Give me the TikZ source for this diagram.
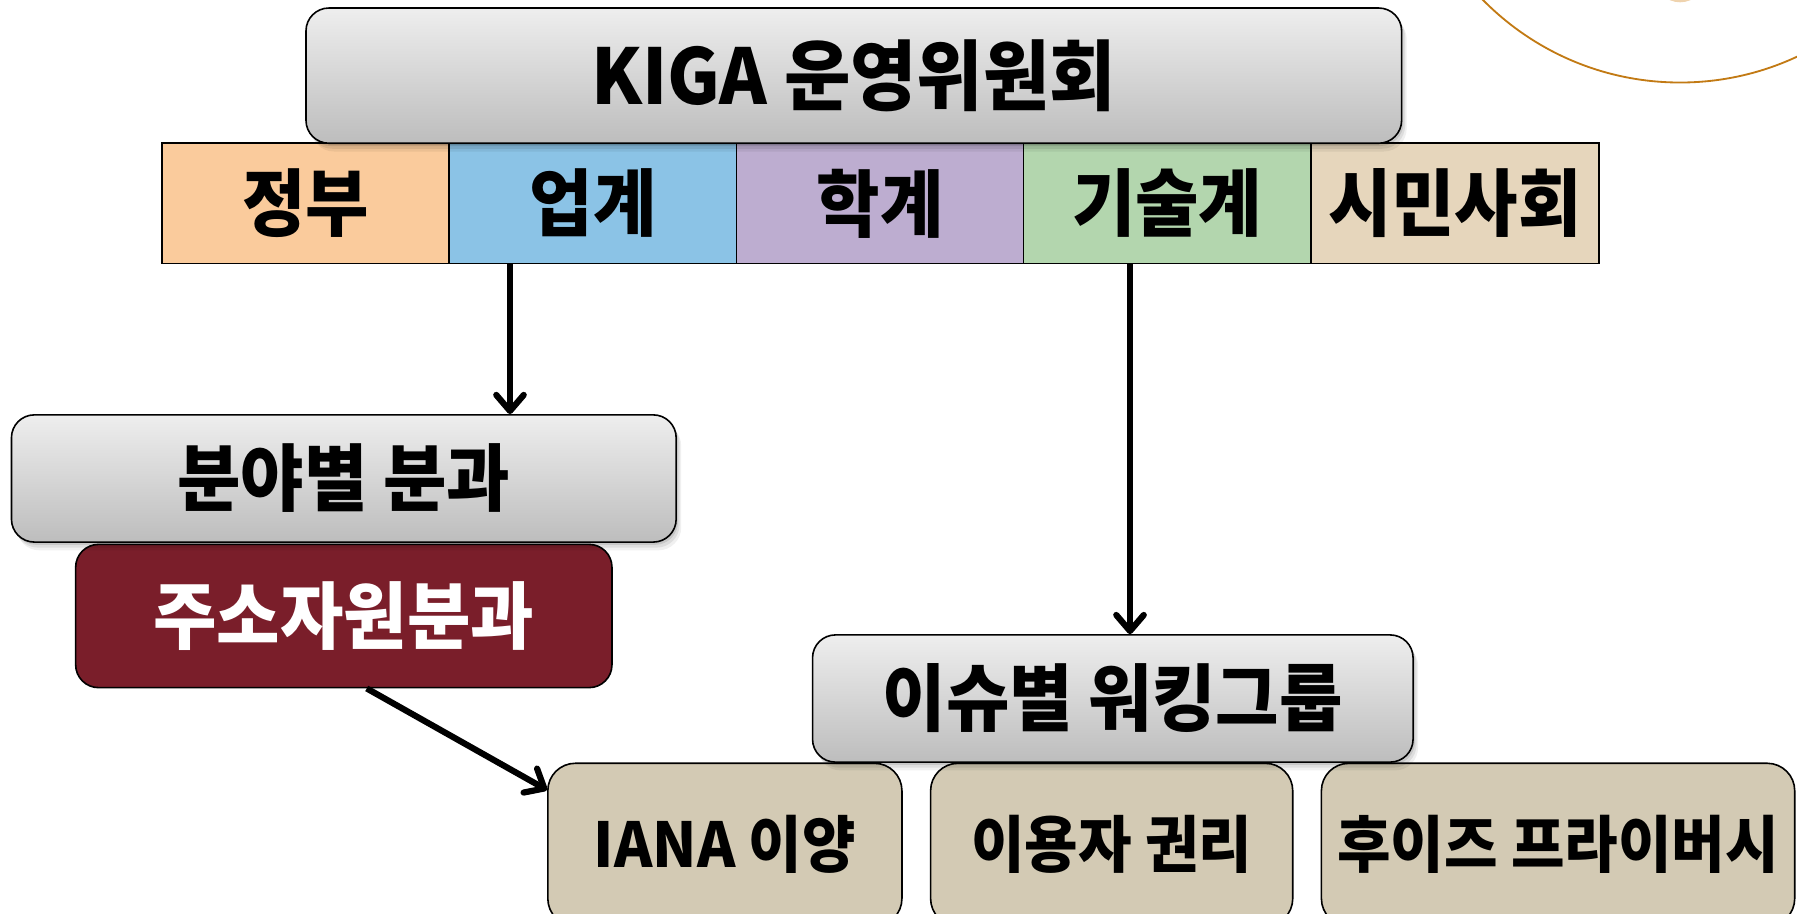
\documentclass[tikz,border=0pt]{standalone}
\usepackage{fontspec}
\setmainfont{Noto Sans CJK KR}
\newfontfamily\krb{Noto Sans CJK KR Black}[FakeStretch=0.94]
\usetikzlibrary{arrows.meta,shadows,calc}
\definecolor{gtop}{HTML}{EEEEEE}
\definecolor{gbot}{HTML}{BDBDBD}
\definecolor{cgov}{HTML}{FACB9C}
\definecolor{cind}{HTML}{8BC3E6}
\definecolor{cacad}{HTML}{BDADD0}
\definecolor{ctech}{HTML}{B3D6AE}
\definecolor{civil}{HTML}{E6D6BC}
\definecolor{darkred}{HTML}{7A1E2A}
\definecolor{tanbg}{HTML}{D3CAB4}
\definecolor{ringc}{HTML}{C27A14}
\definecolor{blobc}{HTML}{EFD3AE}
\tikzset{
  softshadow/.style={
    general shadow={fill=black,opacity=0.10,shadow xshift=0.8pt,shadow yshift=-1.2pt},
    general shadow={fill=black,opacity=0.08,shadow xshift=1.5pt,shadow yshift=-2.4pt},
    general shadow={fill=black,opacity=0.06,shadow xshift=2.2pt,shadow yshift=-3.6pt}},
  basebox/.style={draw=black,line width=0.7pt,inner sep=0pt,
    font=\krb\fontsize{32}{34}\selectfont},
  graybox/.style={basebox,rounded corners=10pt,top color=gtop,bottom color=gbot,softshadow},
  cellbox/.style={basebox,minimum width=125.5pt,minimum height=52.5pt},
  redbox/.style={basebox,rounded corners=10pt,fill=darkred,text=white},
  tanbox/.style={basebox,rounded corners=12pt,fill=tanbg,minimum height=71pt,
    font=\krb\fontsize{27}{29}\selectfont},
  arr/.style={line width=2.7pt,-{Straight Barb[length=7pt,width=12pt,round]}}
}
\begin{document}
\begin{tikzpicture}[x=0.5pt,y=-0.5pt]
\useasboundingbox (0,0) rectangle (1568,797.5);
\clip (0,0) rectangle (1568,797.5);
% ring at top right
\fill[blobc] (1466,-20) circle[radius=22];
\draw[ringc,line width=0.8pt] (1466,-169.4) circle[radius=241.4];
% category row
\node[cellbox,fill=cgov]  (cat1) at (267,177.5)   {정부};
\node[cellbox,fill=cind]  (cat2) at (517.5,177.5) {업계};
\node[cellbox,fill=cacad] (cat3) at (768,177.5)   {학계};
\node[cellbox,fill=ctech] (cat4) at (1018.5,177.5){기술계};
\node[cellbox,fill=civil] (cat5) at (1269.5,177.5){시민사회};
% top committee
\node[graybox,minimum width=478pt,minimum height=59pt,
  font=\krb\fontsize{33.5}{35}\selectfont] (kiga) at (745,66) {KIGA 운영위원회};
% left branch
\node[redbox,minimum width=234pt,minimum height=62.5pt] (juso) at (300,537.5) {주소자원분과};
\node[graybox,minimum width=290pt,minimum height=55.5pt] (bunya) at (300,417.5) {분야별 분과};
% bottom issues
\node[tanbox,minimum width=154.5pt] (iana) at (632.5,737) {IANA 이양};
\node[tanbox,minimum width=158pt] (user) at (970,737) {이용자 권리};
\node[tanbox,minimum width=206.5pt] (whois) at (1359.5,737) {후이즈 프라이버시};
\node[graybox,minimum width=262pt,minimum height=55.5pt] (issue) at (971,609.5) {이슈별 워킹그룹};
% connectors
\coordinate (a1) at (445,0);
\coordinate (a2) at (986,0);
\draw[arr] (cat2.south -| a1) -- (bunya.north -| a1);
\draw[arr] (cat4.south -| a2) -- (issue.north -| a2);
\draw[arr] ([xshift=10pt]juso.south) -- ([yshift=-12pt]iana.north west);
\end{tikzpicture}
\end{document}
